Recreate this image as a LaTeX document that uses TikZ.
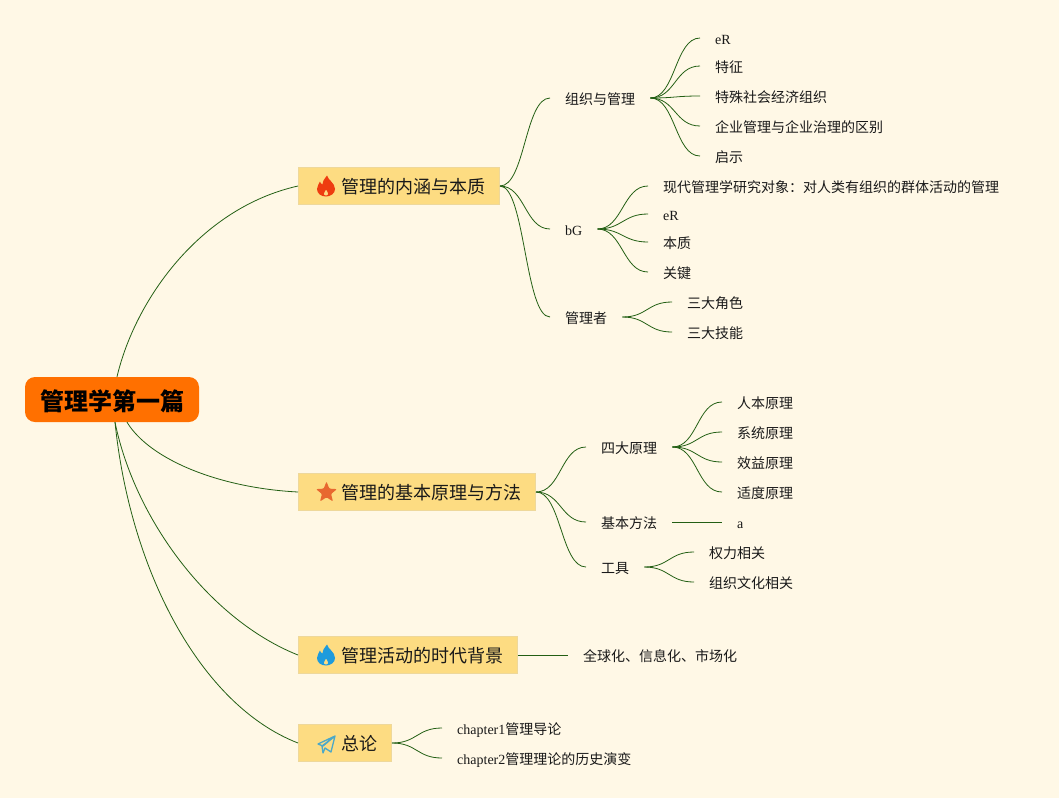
\documentclass[tikz,border=0pt]{standalone}
\usepackage{fontspec}
\setmainfont{Liberation Serif}
\newfontfamily\cjk{Noto Sans CJK SC}
\usetikzlibrary{positioning,shapes.geometric}
\definecolor{green}{RGB}{35,95,20}
\definecolor{paper}{RGB}{255,248,230}
\definecolor{orange}{RGB}{255,112,0}
\definecolor{gold}{RGB}{253,220,130}
\definecolor{rim}{RGB}{238,216,155}
\definecolor{ink}{RGB}{25,25,25}
\definecolor{fire}{RGB}{238,60,16}
\definecolor{water}{RGB}{30,155,220}
\definecolor{amber}{RGB}{232,104,48}
\definecolor{sky}{RGB}{75,168,200}

\begin{document}
\begin{tikzpicture}[x=1pt,y=-1pt]

	\tikzset{line/.style={draw,green,line width=0.8pt}}
	\tikzset{branch/.style={line,out=0,in=180,distance=25pt}}
	\tikzset{root/.style={fill=orange,rounded corners=10pt,minimum width=174pt,minimum height=45pt,inner sep=0pt,text height=23pt,text depth=2pt,text=black,font=\cjk\bfseries\fontsize{24}{28}\selectfont}}
	\tikzset{topic/.style={anchor=west,fill=gold,draw=rim,line width=1pt,minimum height=37pt,inner xsep=14.5pt,inner ysep=0pt,text height=17.5pt,text depth=2pt,text=ink,font=\cjk\fontsize{18}{22}\selectfont,execute at begin node={\hspace*{28pt}}}}
	\tikzset{leaf/.style={anchor=west,inner xsep=15pt,inner ysep=0pt,text height=15pt,text depth=3pt,text=ink,font=\cjk\fontsize{14}{16}\selectfont}}
	\tikzset{icon/.style={even odd rule,draw=none}}

	% Flame: colour
	\tikzset{pics/flame/.style={code={%
				\fill[icon,#1] (1,-10.5) .. controls (2,-6) and (9,-3) .. (9,3) .. controls (9,7.5) and (4.5,10.5) .. (0,10.5) .. controls (-5,10.5) and (-9,7.5) .. (-9,3) .. controls (-9,0) and (-7,-2) .. (-6,-4.5) .. controls (-5.5,-3) and (-5,-2) .. (-3.5,-1.5) .. controls (-3.5,-5) and (-1,-8) .. (1,-10.5) -- cycle
					(0,3.5) .. controls (0.5,5) and (2.5,6) .. (2.2,8) .. controls (2,9.2) and (1,9.5) .. (0,9.5) .. controls (-1.2,9.5) and (-2.2,9) .. (-2.2,8) .. controls (-2.2,6.5) and (-0.7,5) .. (0,3.5) -- cycle;
			}}}

	\fill[paper] (0,0) rectangle (1059,798);

	\node[root] (main) at (112,399.5) {管理学第一篇};

	\node[topic] (nature) at (298,186) {管理的内涵与本质};
	\node[topic] (basic) at (298,492) {管理的基本原理与方法};
	\node[topic] (era) at (298,655) {管理活动的时代背景};
	\node[topic] (intro) at (298,743) {总论};

	\pic at ([xshift=28pt]nature.west) {flame=fire};
	\node[star,star points=5,star point ratio=2.3,fill=amber,inner sep=0pt,minimum size=22pt,rounded corners=1pt] (mark) at ([xshift=28.5pt,yshift=-0.5pt]basic.west) {};
	\pic at ([xshift=28pt]era.west) {flame=water};
	\draw[sky,line width=1.3pt,line join=round] ([xshift=20pt]intro.west) ++(0,1) -- ++(17,-8) -- ++(-4,16) -- ++(-6,-4) -- ++(-2,5) -- ++(-1,-7) -- ++(13,-10) -- ++(-12,10) -- cycle;

	\node[leaf] (org) at (550,98) {组织与管理};
	\node[leaf] (bg) at (550,229) {\rmfamily bG};
	\node[leaf] (boss) at (550,317) {管理者};

	\node[leaf] (org1) at (700,38) {\rmfamily eR};
	\node[leaf] (org2) at (700,66) {特征};
	\node[leaf] (org3) at (700,96) {特殊社会经济组织};
	\node[leaf] (org4) at (700,126) {企业管理与企业治理的区别};
	\node[leaf] (org5) at (700,156) {启示};

	\node[leaf] (bg1) at (648,186) {现代管理学研究对象：对人类有组织的群体活动的管理};
	\node[leaf] (bg2) at (648,214) {\rmfamily eR};
	\node[leaf] (bg3) at (648,242) {本质};
	\node[leaf] (bg4) at (648,272) {关键};

	\node[leaf] (boss1) at (672,302) {三大角色};
	\node[leaf] (boss2) at (672,332) {三大技能};

	\node[leaf] (law) at (586,447) {四大原理};
	\node[leaf] (way) at (586,522) {基本方法};
	\node[leaf] (tool) at (586,567) {工具};

	\node[leaf] (law1) at (722,402) {人本原理};
	\node[leaf] (law2) at (722,432) {系统原理};
	\node[leaf] (law3) at (722,462) {效益原理};
	\node[leaf] (law4) at (722,492) {适度原理};
	\node[leaf] (way1) at (722,522) {\rmfamily a};
	\node[leaf] (tool1) at (694,552) {权力相关};
	\node[leaf] (tool2) at (694,582) {组织文化相关};

	\node[leaf] (era1) at (568,655) {全球化、信息化、市场化};

	\node[leaf] (ch1) at (442,728) {{\rmfamily chapter1}管理导论};
	\node[leaf] (ch2) at (442,758) {{\rmfamily chapter2}管理理论的历史演变};

	\path[line] ([xshift=5pt]main.north) .. controls (135,300) and (200,208) .. (nature.west);
	\path[line] ([xshift=15pt]main.south) .. controls (150,460) and (220,488) .. (basic.west);
	\path[line] ([xshift=3pt]main.south) .. controls (135,520) and (210,620) .. (era.west);
	\path[line] ([xshift=3pt]main.south) .. controls (130,570) and (200,705) .. (intro.west);

	\path[branch] (nature.east) to (org.west);
	\path[branch] (nature.east) to (bg.west);
	\path[branch] (nature.east) to (boss.west);

	\path[branch] (org.east) to (org1.west);
	\path[branch] (org.east) to (org2.west);
	\path[branch] (org.east) to (org3.west);
	\path[branch] (org.east) to (org4.west);
	\path[branch] (org.east) to (org5.west);

	\path[branch] (bg.east) to (bg1.west);
	\path[branch] (bg.east) to (bg2.west);
	\path[branch] (bg.east) to (bg3.west);
	\path[branch] (bg.east) to (bg4.west);

	\path[branch] (boss.east) to (boss1.west);
	\path[branch] (boss.east) to (boss2.west);

	\path[branch] (basic.east) to (law.west);
	\path[branch] (basic.east) to (way.west);
	\path[branch] (basic.east) to (tool.west);

	\path[branch] (law.east) to (law1.west);
	\path[branch] (law.east) to (law2.west);
	\path[branch] (law.east) to (law3.west);
	\path[branch] (law.east) to (law4.west);
	\path[branch] (way.east) to (way1.west);
	\path[branch] (tool.east) to (tool1.west);
	\path[branch] (tool.east) to (tool2.west);

	\path[branch] (era.east) to (era1.west);

	\path[branch] (intro.east) to (ch1.west);
	\path[branch] (intro.east) to (ch2.west);

	\useasboundingbox (0,0) rectangle (1059,798);

\end{tikzpicture}
\end{document}
